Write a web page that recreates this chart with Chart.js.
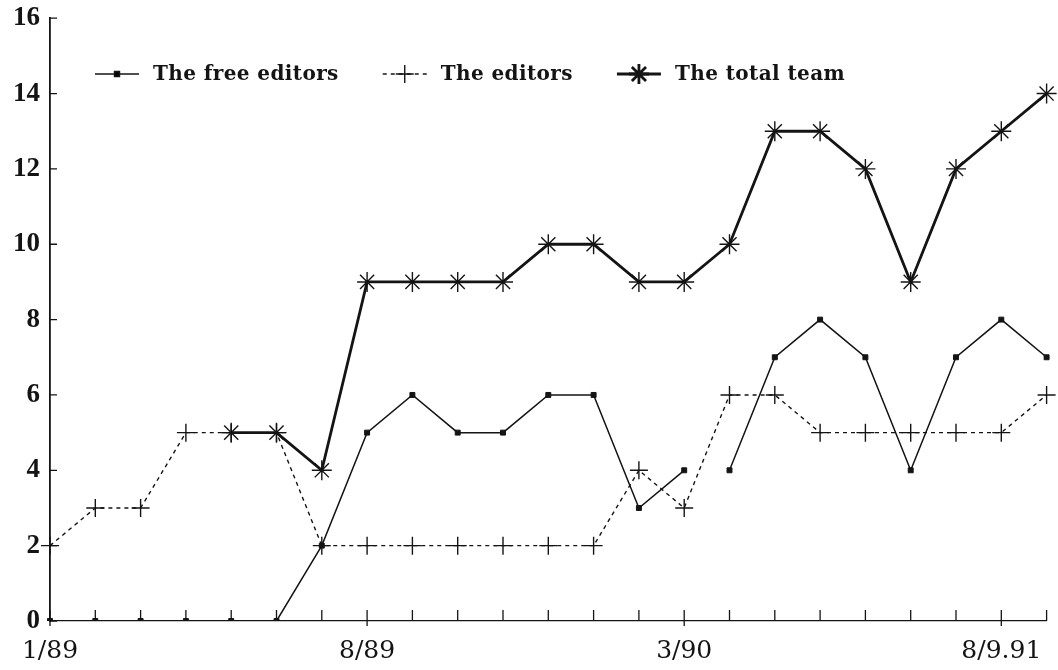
<!DOCTYPE html>
<html>
<head>
<meta charset="utf-8">
<script src="https://cdn.jsdelivr.net/npm/chart.js@4.4.1/dist/chart.umd.min.js"></script>
<style>
  html, body { margin: 0; padding: 0; background: #fff; }
  #wrap { width: 1058px; height: 670px; }
</style>
</head>
<body>
<div id="wrap"><canvas id="chart" width="1058" height="670"></canvas></div>
<script>
// data
let categories = ['1/89', '', '', '', '', '', '', '8/89', '', '', '', '', '', '',
                  '3/90', '', '', '', '', '', '', '8/9.91', ''];
let freeEditors = [0, 0, 0, 0, 0, 0, 2, 5, 6, 5, 5, 6, 6, 3, 4, 4, 7, 8, 7, 4, 7, 8, 7];
let freeEditorsBreaks = [14];   // no line drawn after this point
let editors = [2, 3, 3, 5, 5, 5, 2, 2, 2, 2, 2, 2, 2, 4, 3, 6, 6, 5, 5, 5, 5, 5, 6];
let totalTeam = [null, null, null, null, 5, 5, 4, 9, 9, 9, 9, 10, 10, 9, 9, 10, 13, 13, 12, 9, 12, 13, 14];
let seriesNames = ['The free editors', 'The editors', 'The total team'];
let yMin = 0, yMax = 16, yStep = 2;

let ink = '#141414';

// ticks pointing into the plot, like the original
const innerTicks = {
    id: 'innerTicks',
    afterDraw(chart) {
        let ctx = chart.ctx;
        let xs = chart.scales.x;
        let ys = chart.scales.y;
        let y0 = ys.getPixelForValue(yMin);
        ctx.save();
        ctx.strokeStyle = ink;
        ctx.lineWidth = 1.3;
        ctx.beginPath();
        categories.forEach((c, i) => {
            let x = xs.getPixelForValue(i);
            ctx.moveTo(x, y0 + (c ? 5 : 0));
            ctx.lineTo(x, y0 - 11);
        });
        for (let v = yMin; v <= yMax; v += yStep) {
            let y = ys.getPixelForValue(v);
            ctx.moveTo(xs.left, y);
            ctx.lineTo(xs.left + 7, y);
        }
        ctx.stroke();
        ctx.restore();
    }
};

// legend drawn inside the plot area with line samples
const innerLegend = {
    id: 'innerLegend',
    afterDraw(chart) {
        let ctx = chart.ctx;
        let x = 95, y = 74;
        ctx.save();
        ctx.font = 'bold 20px "DejaVu Serif"';
        ctx.letterSpacing = '0.4px';
        ctx.textBaseline = 'middle';
        chart.data.datasets.forEach((ds) => {
            let w = 44;
            ctx.strokeStyle = ink;
            ctx.lineWidth = ds.borderWidth;
            ctx.setLineDash(ds.borderDash || []);
            ctx.beginPath();
            ctx.moveTo(x, y);
            ctx.lineTo(x + w, y);
            ctx.stroke();
            ctx.setLineDash([]);
            Chart.helpers.drawPoint(ctx, {
                pointStyle: ds.pointStyle,
                radius: ds.pointRadius,
                borderWidth: ds.pointBorderWidth
            }, x + w / 2, y);
            ctx.fillStyle = ink;
            ctx.fillText(ds.label, x + w + 14, y + 1);
            x += w + 14 + ctx.measureText(ds.label).width + 44;
        });
        ctx.restore();
    }
};

let ctx = document.getElementById('chart').getContext('2d');
let chart = new Chart(ctx, {
    type: 'line',
    data: {
        labels: categories,
        datasets: [{
            label: seriesNames[0],
            data: freeEditors,
            borderColor: ink,
            backgroundColor: ink,
            borderWidth: 1.5,
            pointStyle: 'rect',
            pointRadius: 3.5,
            pointBorderWidth: 1,
            segment: {
                borderColor: c => freeEditorsBreaks.includes(c.p0DataIndex) ? 'rgba(0,0,0,0)' : undefined
            }
        }, {
            label: seriesNames[1],
            data: editors,
            borderColor: ink,
            backgroundColor: ink,
            borderWidth: 1.4,
            borderDash: [4, 4],
            pointStyle: 'cross',
            pointRadius: 9,
            pointBorderWidth: 1.4
        }, {
            label: seriesNames[2],
            data: totalTeam,
            borderColor: ink,
            backgroundColor: ink,
            borderWidth: 2.8,
            pointStyle: 'star',
            pointRadius: 10,
            pointBorderWidth: 1.4
        }]
    },
    options: {
        responsive: false,
        animation: false,
        layout: { padding: { top: 5, right: 5, left: 0, bottom: 0 } },
        plugins: {
            legend: { display: false },
            tooltip: { enabled: false }
        },
        elements: { line: { tension: 0 } },
        scales: {
            x: {
                offset: false,
                grid: { display: false },
                border: { display: true, color: ink, width: 1.2, dash: [9, 3, 2, 3] },
                ticks: {
                    autoSkip: false,
                    maxRotation: 0,
                    color: ink,
                    padding: 7,
                    font: { family: '"DejaVu Serif"', size: 25 }
                },
                afterFit: s => { s.height = 49; }
            },
            y: {
                min: yMin,
                max: yMax,
                grid: { display: false },
                border: { display: true, color: ink, width: 1.8 },
                ticks: {
                    stepSize: yStep,
                    color: ink,
                    padding: 2,
                    font: { family: '"Liberation Serif"', size: 27, weight: 'bold' }
                },
                afterFit: s => { s.width = 50; }
            }
        }
    },
    plugins: [innerTicks, innerLegend]
});
</script>
</body>
</html>
